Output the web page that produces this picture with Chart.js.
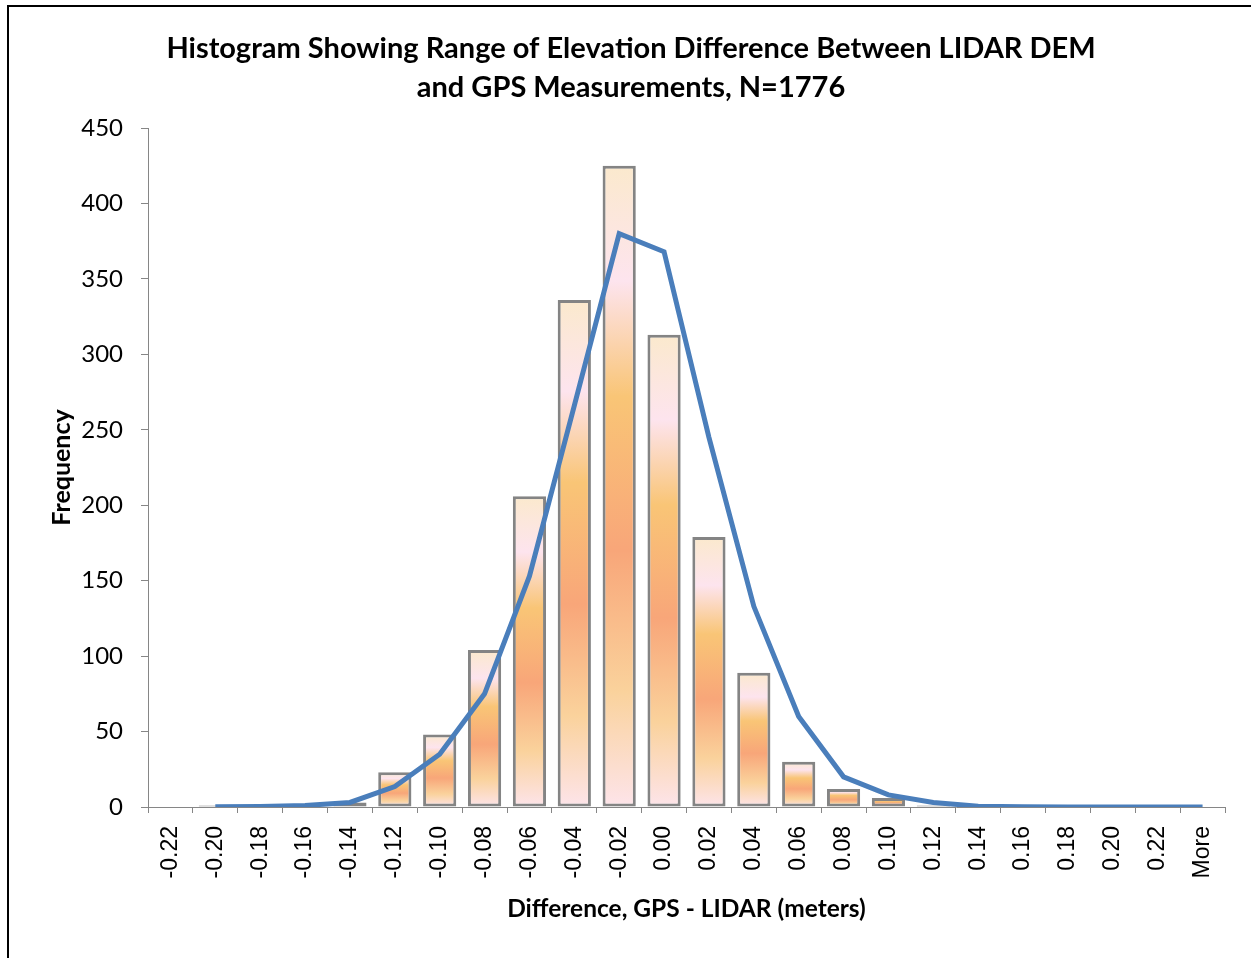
<!DOCTYPE html>
<html>
<head>
<meta charset="utf-8">
<script src="https://cdn.jsdelivr.net/npm/chart.js@4.4.1/dist/chart.umd.min.js"></script>
<style>
  html, body { margin: 0; padding: 0; background: #fff; overflow: hidden; }
  #frame { position: absolute; left: 7px; top: 5px; width: 1300px; height: 1000px;
           border-left: 2px solid #000; border-top: 2px solid #000; pointer-events: none; }
  canvas { position: absolute; left: 0; top: 0; }
</style>
</head>
<body>
<canvas id="histChart" width="1251" height="958"></canvas>
<div id="frame"></div>
<script>
const bins = ['-0.22', '-0.20', '-0.18', '-0.16', '-0.14', '-0.12', '-0.10', '-0.08', '-0.06', '-0.04',
  '-0.02', '0.00', '0.02', '0.04', '0.06', '0.08', '0.10', '0.12', '0.14', '0.16', '0.18', '0.20', '0.22', 'More'];

// observed counts per bin
const frequency = [0, 1, 0, 0, 3, 23, 48, 104, 206, 336, 425, 313, 179, 89, 30, 12, 6, 1, 0, 0, 0, 0, 0, 0];

// fitted normal curve
const expected = [null, 0.1, 0.3, 1, 3, 13.5, 35, 75, 153, 266, 380, 368, 245, 133, 60, 20, 8, 3, 0.5, 0.1, 0, 0, 0, 0];

const yTicks = [0, 50, 100, 150, 200, 250, 300, 350, 400, 450];

const gridGray = '#868686';

function barFill(c) {
  const chart = c.chart;
  if (!chart.chartArea || c.raw == null) return '#f9c576';
  const y = chart.scales.y;
  const top = y.getPixelForValue(c.raw);
  const base = y.getPixelForValue(0);
  if (base - top < 2) return '#f9c576';
  const g = chart.ctx.createLinearGradient(0, top, 0, base);
  g.addColorStop(0, '#fbe9cd');
  g.addColorStop(0.18, '#fde4ee');
  g.addColorStop(0.36, '#f9c576');
  g.addColorStop(0.6, '#f8a679');
  g.addColorStop(0.82, '#fad29c');
  g.addColorStop(1, '#fde4ea');
  return g;
}

const ctx = document.getElementById('histChart').getContext('2d');
new Chart(ctx, {
  type: 'bar',
  data: {
    labels: bins,
    datasets: [
      {
        type: 'line',
        data: expected,
        borderColor: '#4a7ebb',
        borderWidth: 5,
        pointRadius: 0,
        tension: 0,
        fill: false,
        order: 0
      },
      {
        type: 'bar',
        data: frequency,
        backgroundColor: barFill,
        borderColor: '#848484',
        borderWidth: c => (c.raw ? 3 : 0),
        borderSkipped: false,
        categoryPercentage: 1,
        barPercentage: 0.74,
        order: 1
      }
    ]
  },
  options: {
    responsive: false,
    animation: false,
    layout: { padding: { left: 37, right: 26, top: 0, bottom: 0 } },
    plugins: {
      legend: { display: false },
      tooltip: { enabled: false },
      title: {
        display: true,
        text: ['Histogram Showing Range of Elevation Difference Between LIDAR DEM', 'and GPS Measurements, N=1776'],
        color: '#000',
        font: { family: 'Lato', size: 29, weight: 'bold', lineHeight: 1.345 },
        padding: { top: 29, bottom: 21 }
      }
    },
    scales: {
      x: {
        offset: true,
        grid: { display: true, drawOnChartArea: false, drawTicks: true, tickLength: 6, color: gridGray, offset: true },
        border: { color: gridGray, width: 1 },
        ticks: {
          color: '#000',
          font: { family: 'Liberation Sans', size: 23 },
          maxRotation: 90,
          minRotation: 90,
          autoSkip: false,
          padding: 13
        },
        title: {
          display: true,
          text: 'Difference, GPS - LIDAR (meters)',
          color: '#000',
          font: { family: 'Lato', size: 24.5, weight: 'bold', lineHeight: 1.2 },
          padding: { top: 34, bottom: 34 }
        },
        afterFit: s => { s.height = 151; }
      },
      y: {
        min: 0,
        max: 450,
        afterBuildTicks: s => { s.ticks = yTicks.map(v => ({ value: v })); },
        grid: { display: true, drawOnChartArea: false, drawTicks: true, tickLength: 7, color: gridGray },
        border: { color: gridGray, width: 1 },
        ticks: {
          color: '#000',
          font: { family: 'Lato', size: 24 },
          padding: 18
        },
        title: {
          display: true,
          text: 'Frequency',
          color: '#000',
          font: { family: 'Lato', size: 25, weight: 'bold', lineHeight: 1.2 },
          padding: { top: 10, bottom: 10 }
        },
        afterFit: s => { s.width = 111; }
      }
    }
  }
});
</script>
</body>
</html>
